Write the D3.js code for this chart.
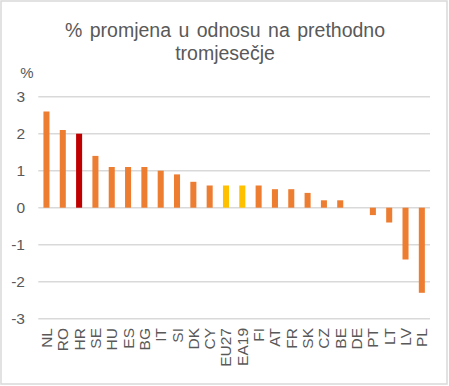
<!DOCTYPE html>
<html>
<head>
<meta charset="utf-8">
<script src="https://cdn.jsdelivr.net/npm/d3@7"></script>
<style>
  body { margin: 0; background: #fff; }
  text { font-family: "Liberation Sans", Arial, sans-serif; fill: #595959; }
</style>
</head>
<body>
<script>
//chart data
var countries = ["NL", "RO", "HR", "SE", "HU", "ES", "BG", "IT", "SI", "DK", "CY", "EU27", "EA19", "FI", "AT", "FR", "SK", "CZ", "BE", "DE", "PT", "LT", "LV", "PL"];
var changes = [2.6, 2.1, 2.0, 1.4, 1.1, 1.1, 1.1, 1.0, 0.9, 0.7, 0.6, 0.6, 0.6, 0.6, 0.5, 0.5, 0.4, 0.2, 0.2, 0.0, -0.2, -0.4, -1.4, -2.3];
var yTicks = [-3, -2, -1, 0, 1, 2, 3];
var highlightCountry = "HR";
var aggregates = ["EU27", "EA19"];

(function(){
  var width = 449, height = 386;

  var svg = d3.select("body")
    .append("svg")
    .attr("width", width)
    .attr("height", height);

  //outer frame
  svg.append("rect")
    .attr("x", 1).attr("y", 1)
    .attr("width", 446).attr("height", 383)
    .attr("fill", "#fff")
    .attr("stroke", "#d9d9d9")
    .attr("stroke-width", 1.5);

  //title
  var title = svg.append("text")
    .attr("text-anchor", "middle")
    .style("font-size", "19.5px")
    .style("word-spacing", "2px");
  title.append("tspan").attr("x", 225).attr("y", 37).text("% promjena u odnosu na prethodno");
  title.append("tspan").attr("x", 225).attr("y", 60).text("tromjesečje");

  //unit label
  svg.append("text")
    .attr("x", 27).attr("y", 78)
    .attr("text-anchor", "middle")
    .style("font-size", "15px")
    .text("%");

  var x = d3.scaleBand()
    .domain(countries)
    .range([38.3, 430])
    .paddingInner(0.63)
    .paddingOuter(0.315);

  var y = d3.scaleLinear()
    .domain([-3, 3])
    .range([318.7, 96.7]);

  //gridlines
  svg.append("g")
    .selectAll("line")
    .data(yTicks)
    .enter()
    .append("line")
    .attr("x1", 38.3).attr("x2", 430)
    .attr("y1", function(d){ return y(d); })
    .attr("y2", function(d){ return y(d); })
    .attr("stroke", "#d9d9d9")
    .attr("stroke-width", 1.5);

  //y tick labels
  svg.append("g")
    .selectAll("text")
    .data(yTicks)
    .enter()
    .append("text")
    .attr("x", 25)
    .attr("y", function(d){ return y(d) + 5.5; })
    .attr("text-anchor", "end")
    .style("font-size", "15.5px")
    .text(function(d){ return d; });

  //bars
  svg.append("g")
    .selectAll("rect")
    .data(countries)
    .enter()
    .append("rect")
    .attr("x", function(d){ return x(d); })
    .attr("width", x.bandwidth())
    .attr("y", function(d, i){ return y(Math.max(0, changes[i])); })
    .attr("height", function(d, i){ return Math.abs(y(changes[i]) - y(0)); })
    .attr("fill", function(d){
      if (d === highlightCountry) return "#c00000";
      if (aggregates.indexOf(d) >= 0) return "#ffc000";
      return "#ed7d31";
    });

  //category labels, rotated
  svg.append("g")
    .selectAll("text")
    .data(countries)
    .enter()
    .append("text")
    .attr("transform", function(d){
      return "translate(" + (x(d) + x.bandwidth() / 2 + 5.5) + ",328) rotate(-90)";
    })
    .attr("text-anchor", "end")
    .style("font-size", "15.5px")
    .text(function(d){ return d; });
})();
</script>
</body>
</html>
